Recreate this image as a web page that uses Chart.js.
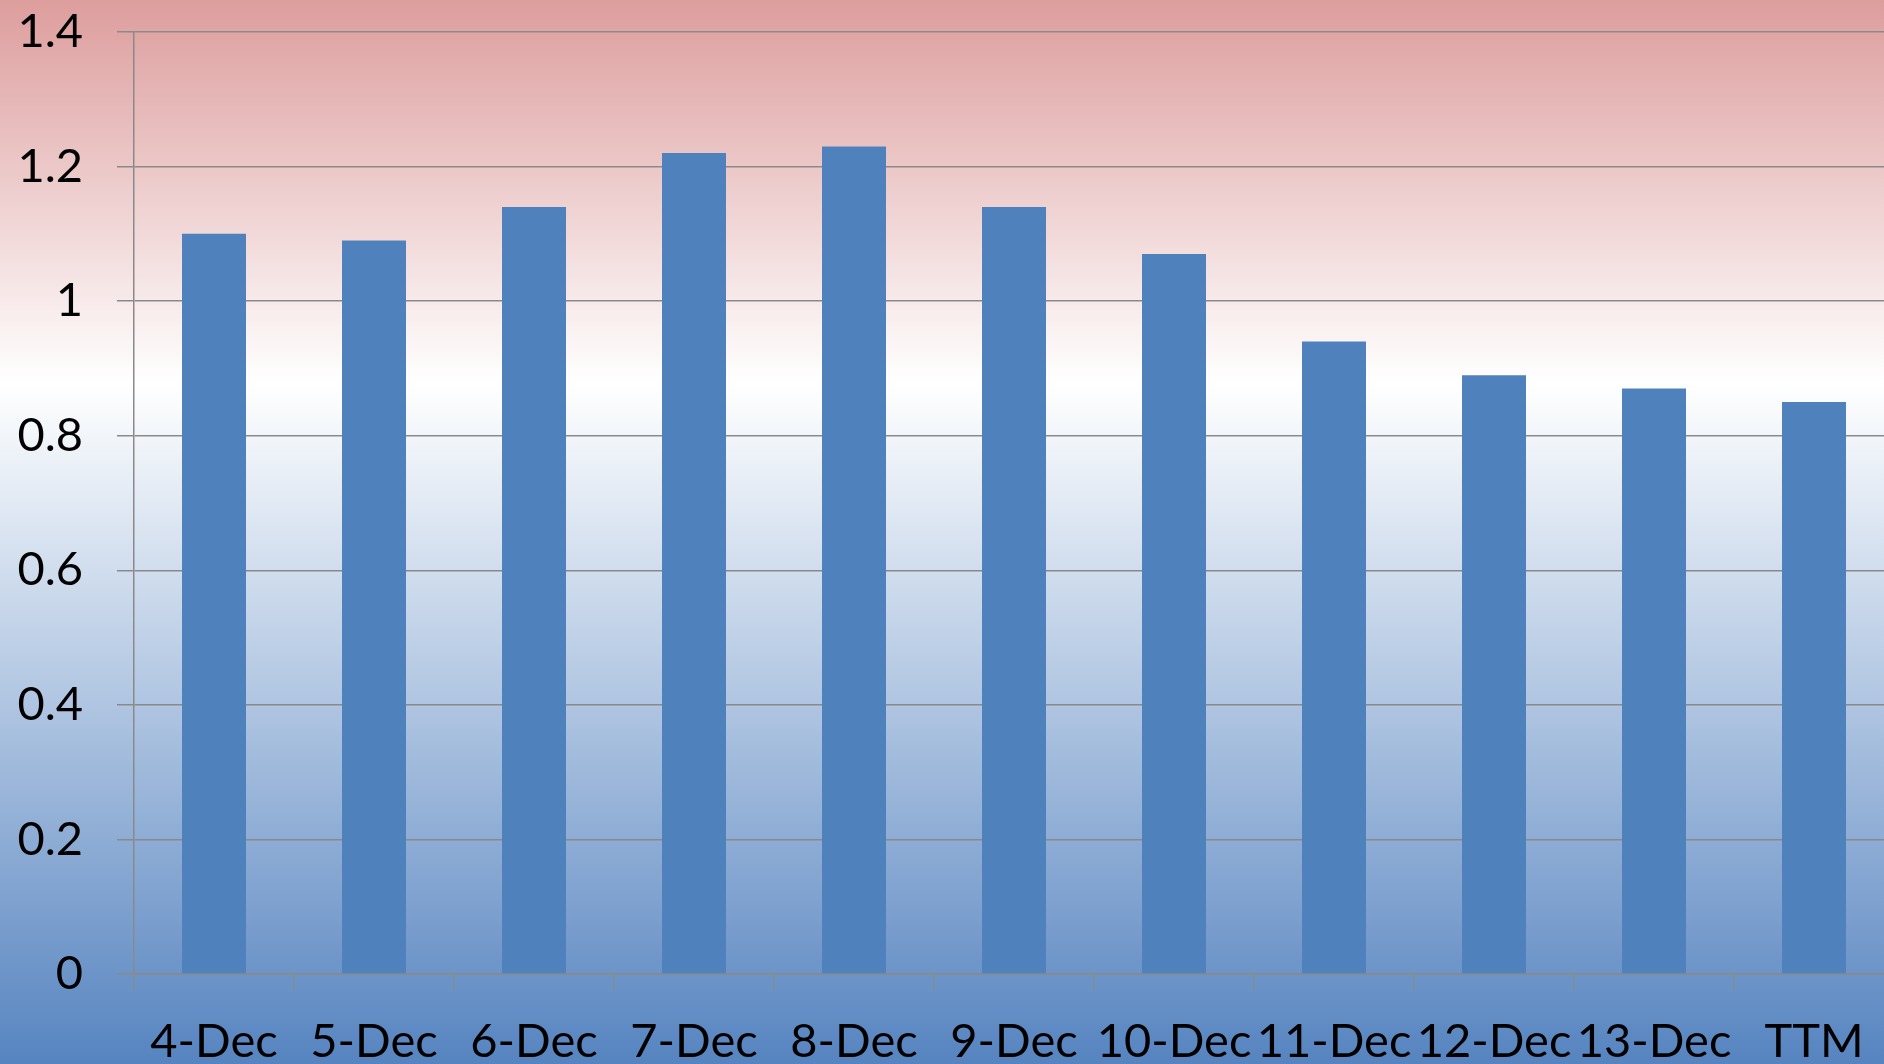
<!DOCTYPE html>
<html>

<head>
    <title>Ratio by period</title>
    <script src="https://cdn.jsdelivr.net/npm/chart.js@4/dist/chart.umd.min.js"></script>
    <style>
        html, body { margin: 0; padding: 0; overflow: hidden; background: #fff; }
        #wrap { position: relative; width: 1894px; height: 1064px; }
    </style>
</head>

<body>
    <div id="wrap">
        <canvas id="grafico"></canvas>
    </div>
    <script>
        // periods and values
        var periodos = ['4-Dec', '5-Dec', '6-Dec', '7-Dec', '8-Dec', '9-Dec', '10-Dec', '11-Dec', '12-Dec', '13-Dec', 'TTM'];
        var valores = [1.10, 1.09, 1.14, 1.22, 1.23, 1.14, 1.07, 0.94, 0.89, 0.87, 0.85];
        var yMin = 0, yMax = 1.4, yPasso = 0.2;

        // background gradient: pink at top, white, blue at bottom
        var fundo = {
            id: 'fundo',
            beforeDraw: function (chart) {
                var c = chart.ctx;
                var h = chart.height;
                var g = c.createLinearGradient(0, 0, 0, h);
                g.addColorStop(0, '#dd9d9d');
                g.addColorStop(0.36, '#ffffff');
                g.addColorStop(1, '#5684c0');
                c.save();
                c.fillStyle = g;
                c.fillRect(0, 0, chart.width, h);
                c.restore();
            }
        };

        var fonte = { family: 'Lato, "Noto Sans", sans-serif', size: 47 };
        var cinza = '#8a8a8a';

        var ctx = document.getElementById('grafico').getContext('2d');
        var chart = new Chart(ctx, {
            type: 'bar',
            data: {
                labels: periodos,
                datasets: [{
                    data: valores,
                    backgroundColor: '#4f81bd',
                    borderWidth: 0,
                    categoryPercentage: 1,
                    barPercentage: 0.4
                }]
            },
            options: {
                responsive: true,
                maintainAspectRatio: false,
                animation: false,
                layout: { padding: { top: 32, left: 0, right: 0, bottom: 0 } },
                plugins: { legend: { display: false }, tooltip: { enabled: false } },
                scales: {
                    x: {
                        grid: {
                            offset: true,
                            drawOnChartArea: false,
                            drawTicks: true,
                            tickLength: 16,
                            color: cinza,
                            lineWidth: 1.5
                        },
                        border: { color: cinza, width: 1.5 },
                        ticks: {
                            color: '#000',
                            font: fonte,
                            padding: 24,
                            maxRotation: 0,
                            autoSkip: false
                        },
                        afterFit: function (s) {
                            s.height = 90;
                            s.paddingLeft = 0;
                            s.paddingRight = 0;
                        }
                    },
                    y: {
                        min: yMin,
                        max: yMax,
                        grid: {
                            color: cinza,
                            lineWidth: 1.5,
                            tickLength: 17
                        },
                        border: { color: cinza, width: 1.5 },
                        ticks: {
                            stepSize: yPasso,
                            color: '#000',
                            font: fonte,
                            padding: 34,
                            callback: function (v) { return String(+v.toFixed(1)); }
                        },
                        afterFit: function (s) {
                            s.width = 134;
                            s.paddingTop = 0;
                            s.paddingBottom = 0;
                        }
                    }
                }
            },
            plugins: [fundo]
        });
    </script>
</body>

</html>
